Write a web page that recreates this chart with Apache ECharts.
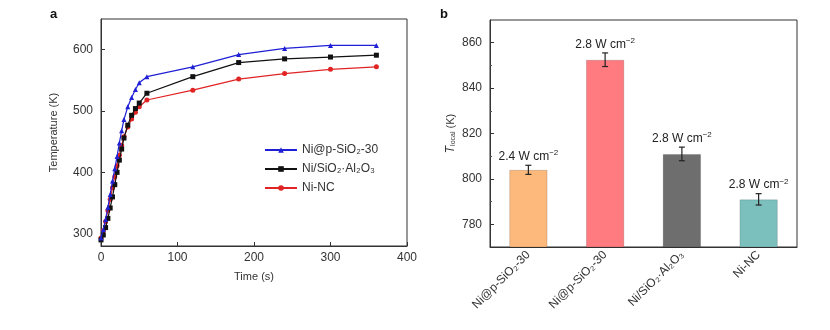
<!DOCTYPE html>
<html><head><meta charset="utf-8">
<script src="https://cdn.jsdelivr.net/npm/echarts@6/dist/echarts.min.js"></script>
<style>html,body{margin:0;padding:0;background:#fff}#c{width:830px;height:330px}</style>
</head><body><div id="c"></div>
<script>
// ---- Panel a data ----
const timeS = [0,3,6,9,12,15,18,21,24,27,30,35,40,45,50,60,120,180,240,300,360];
const tempNiPSiO2 = [293,307,323,343,364,386,406,426,448,468,486,507,522,535,546,556,572,592,602,607,607];
const tempNiSiAl = [290,298,310,325,342,360,380,400,420,438,456,477,493,504,513,529,556,579,585,588,591];
const tempNiNC = [293,305,320,338,356,375,393,411,428,444,458,474,487,498,507,518,534,552,561,568,572];
const seriesNamesA = ['Ni@p-SiO\u2082-30','Ni/SiO\u2082\u00b7Al\u2082O\u2083','Ni-NC'];
const yTicksA = [300,400,500,600];
// ---- Panel b data ----
const barCats = ['Ni@p-SiO\u2082-30','Ni@p-SiO\u2082-30','Ni/SiO\u2082\u00b7Al\u2082O\u2083','Ni-NC'];
const barVals = [804,852.5,811,791];
const barErr = [2,3,3,2.5];
const barPower = ['2.4','2.8','2.8','2.8'];
const barColors = ['#FDB87C','#FF7B80','#6E6E6E','#7CC0BE'];
const yTicksB = [780,800,820,840,860];
const yMinorB = [790,810,830,850];

const chart = echarts.init(document.getElementById('c'));
const FONT = 'Liberation Sans, Arial, sans-serif';
const axisLine = {show:true, lineStyle:{color:'#333', width:1}};

const pair = (xs, ys) => xs.map((x,i)=>[x, ys[i]]);
const lineColors = ['#1F1FD6','#111111','#E02424'];
const symbols = ['triangle','rect','circle'];
const dataA = [tempNiPSiO2, tempNiSiAl, tempNiNC];

const seriesA = dataA.map((d,i)=>({
  type:'line', name: seriesNamesA[i], xAxisIndex:0, yAxisIndex:0,
  data: pair(timeS, d), symbol: symbols[i], symbolSize: 5,
  itemStyle:{color: lineColors[i]}, lineStyle:{color: lineColors[i], width:1.2},
  animation:false, z: 3-i
}));

const option = {
  animation:false,
  textStyle:{fontFamily:FONT},
  graphic:[
    {type:'text', left:50, top:8, style:{text:'a', font:'bold 13px '+FONT, fill:'#111'}},
    {type:'text', left:440, top:8, style:{text:'b', font:'bold 13px '+FONT, fill:'#111'}}
  ],
  legend:{
    data: seriesNamesA, left:259, top:139, orient:'vertical', itemGap:7,
    itemWidth:32, itemHeight:7,
    textStyle:{fontSize:12, color:'#333', fontFamily:FONT},
    backgroundColor:'transparent'
  },
  grid:[
    {left:101, right:423, top:19, bottom:84, show:true, borderColor:'#333', borderWidth:1, containLabel:false},
    {left:490, right:33, top:20, bottom:83, show:true, borderColor:'#333', borderWidth:1, containLabel:false}
  ],
  xAxis:[
    {type:'value', gridIndex:0, min:0, max:400, interval:100,
     name:'Time (s)', nameLocation:'middle', nameGap:25,
     nameTextStyle:{fontSize:11, color:'#333', fontFamily:FONT},
     axisLine: axisLine, axisTick:{show:true, inside:true, length:4, lineStyle:{color:'#333'}},
     axisLabel:{fontSize:12, color:'#333', margin:6, fontFamily:FONT},
     splitLine:{show:false}},
    {type:'category', gridIndex:1, data: barCats.map((c,i)=>'c'+i),
     axisLine: axisLine, axisTick:{show:false},
     axisLabel:{rotate:45, fontSize:12, color:'#333', margin:6, fontFamily:FONT,
       formatter:(v, idx)=>barCats[idx]}}
  ],
  yAxis:[
    {type:'value', gridIndex:0, min:280, max:650,
     name:'Temperature (K)', nameLocation:'middle', nameGap:42,
     nameTextStyle:{fontSize:11, color:'#333', fontFamily:FONT},
     axisLine: axisLine,
     axisTick:{show:true, inside:true, length:4, customValues: yTicksA, lineStyle:{color:'#333'}},
     axisLabel:{fontSize:12, color:'#333', margin:8, customValues: yTicksA, fontFamily:FONT},
     splitLine:{show:false}},
    {type:'value', gridIndex:1, min:770, max:870,
     name:'{t|T}{s|local}{n| (K)}', nameLocation:'middle', nameGap:33,
     nameTextStyle:{fontSize:11, color:'#333', fontFamily:FONT,
       rich:{t:{fontStyle:'italic', fontSize:12, fontFamily:FONT, color:'#333'},
             s:{fontSize:7, fontFamily:FONT, color:'#333', padding:[6,0,0,0]},
             n:{fontSize:11, fontFamily:FONT, color:'#333'}}},
     axisLine: axisLine,
     axisTick:{show:true, inside:true, length:4, customValues: yTicksB, lineStyle:{color:'#333'}},
     axisLabel:{fontSize:12, color:'#333', margin:8, customValues: yTicksB, fontFamily:FONT},
     splitLine:{show:false}},
    {type:'value', gridIndex:1, min:770, max:870, position:'left',
     axisLine:{show:false},
     axisTick:{show:true, inside:true, length:2, customValues: yMinorB, lineStyle:{color:'#555'}},
     axisLabel:{show:false, customValues: yMinorB},
     splitLine:{show:false}}
  ],
  series:[
    ...seriesA,
    {type:'bar', xAxisIndex:1, yAxisIndex:1, barWidth:'50%',
     data: barVals.map((v,i)=>({value:v, itemStyle:{color:barColors[i], borderColor:'rgba(0,0,0,0.15)', borderWidth:1}})),
     animation:false},
    {type:'custom', xAxisIndex:1, yAxisIndex:1, z:10,
     data: barVals.map((v,i)=>[i, v, barErr[i]]),
     renderItem:(params, api)=>{
       const x = api.value(0), v = api.value(1), e = api.value(2);
       const top = api.coord([x, v+e]), bot = api.coord([x, v-e]);
       const cap = 3;
       const st = {stroke:'#222', lineWidth:1.2};
       return {type:'group', children:[
         {type:'line', shape:{x1:top[0], y1:top[1], x2:bot[0], y2:bot[1]}, style:st},
         {type:'line', shape:{x1:top[0]-cap, y1:top[1], x2:top[0]+cap, y2:top[1]}, style:st},
         {type:'line', shape:{x1:bot[0]-cap, y1:bot[1], x2:bot[0]+cap, y2:bot[1]}, style:st},
         {type:'text', x: top[0], y: top[1]-1, style:{
            text: barPower[params.dataIndex] + ' W cm{s|\u22122}', align:'center', verticalAlign:'bottom',
            font:'12px '+FONT, fill:'#222',
            rich:{s:{fontSize:8, fontFamily:FONT, fill:'#222', padding:[0,0,7,0]}}
         }}
       ]};
     },
     animation:false}
  ]
};
chart.setOption(option);
</script></body></html>
